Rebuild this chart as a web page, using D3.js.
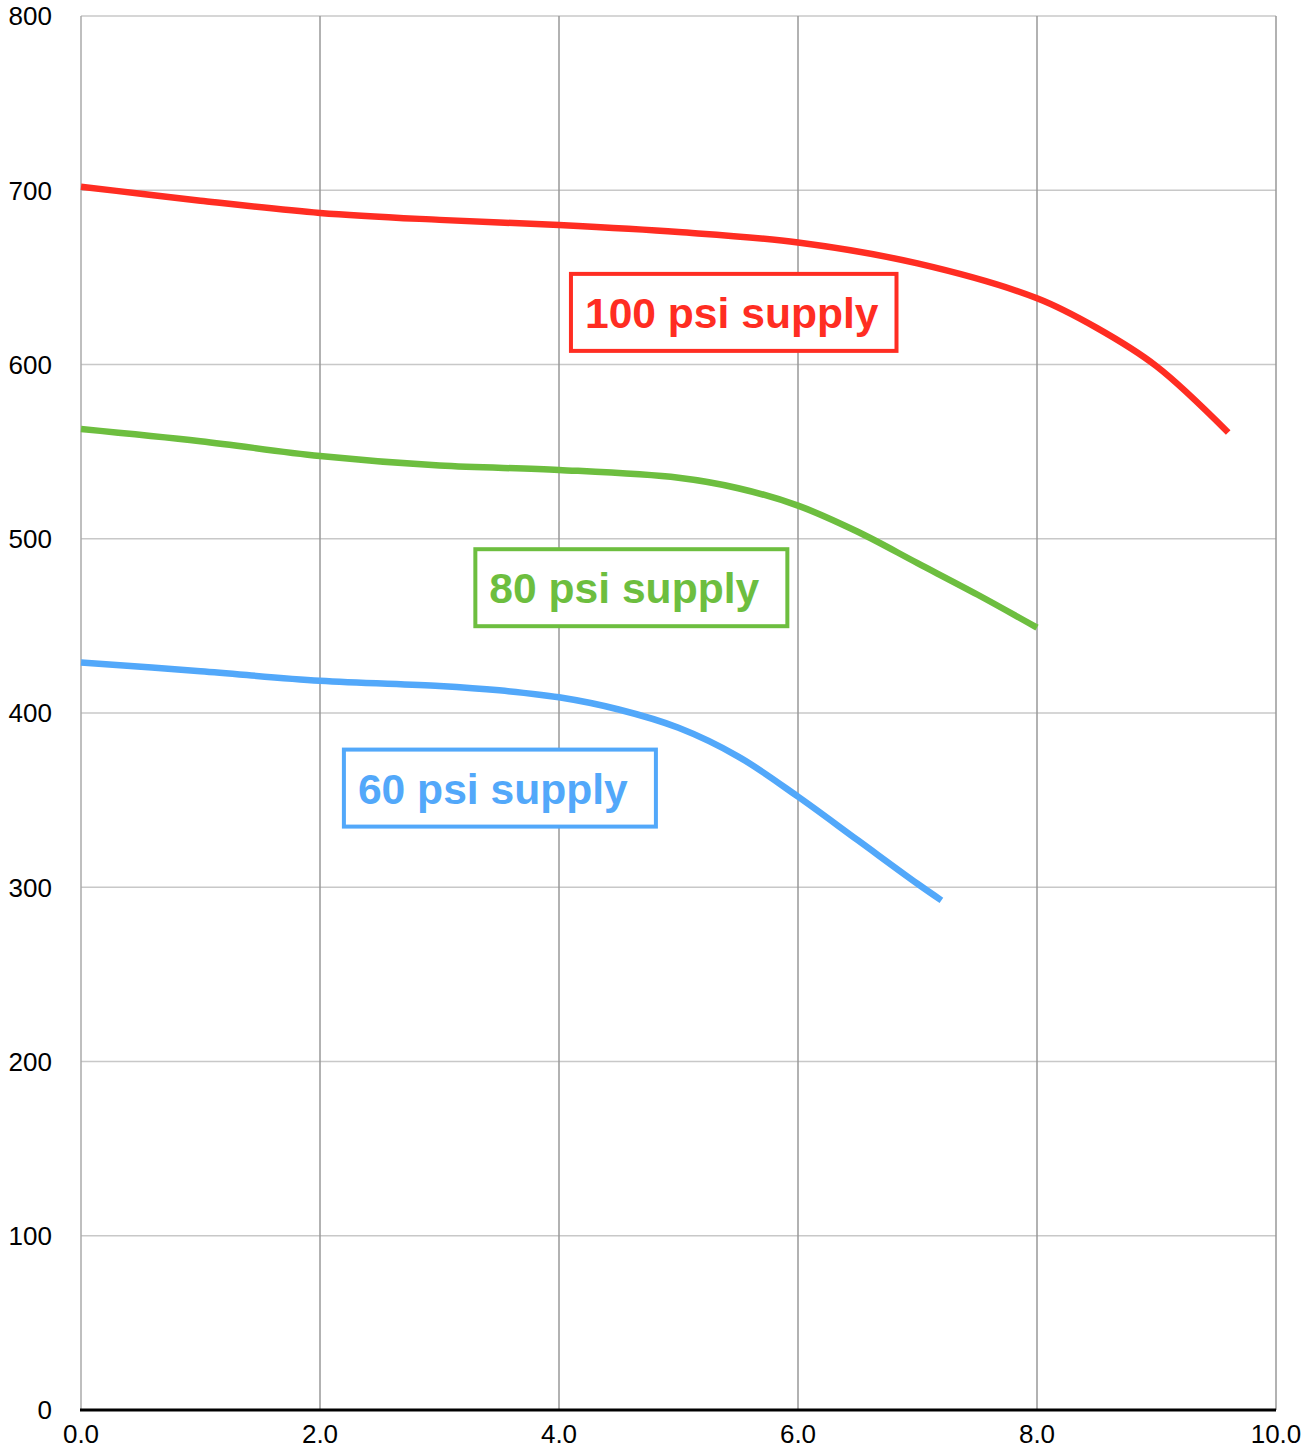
<!DOCTYPE html>
<html>
<head>
<meta charset="utf-8">
<script src="https://cdn.jsdelivr.net/npm/d3@7"></script>
<style>
  body { margin: 0; background: #fff; }
  svg { display: block; font-family: "Liberation Sans", Arial, Helvetica, sans-serif; }
</style>
</head>
<body>
<div id="chart"></div>
<script>
// flow (x) vs value (y)
const psi100 = [[0, 702], [0.5, 698], [1, 694], [2, 687], [3, 683], [4, 680], [5, 676], [6, 670], [7, 658], [8, 638], [8.5, 621], [9, 599], [9.6, 561]];
const psi80 = [[0, 563], [1, 556], [2, 547.5], [3, 542], [4, 539.5], [5, 535], [5.5, 529], [6, 519], [6.5, 504], [7, 486], [7.5, 468], [8, 449]];
const psi60 = [[0, 429], [1, 424], [2, 418.5], [3, 415.5], [3.5, 413], [4, 409], [4.5, 402], [5, 391.5], [5.5, 375], [6, 352], [6.5, 327], [7, 302], [7.2, 292.5]];

const seriesNames = ["100 psi supply", "80 psi supply", "60 psi supply"];
const seriesColors = ["#ff2d22", "#6dbe3f", "#52a8fa"];
// label anchor in data units (left, top of the box)
const labelAt = [[4.1, 652], [3.3, 494], [2.2, 379]];

const xTicks = [0, 2, 4, 6, 8, 10];
const yTicks = [0, 100, 200, 300, 400, 500, 600, 700, 800];

const W = 1314, H = 1450;
const margin = { top: 16, right: 38, bottom: 40, left: 81 };
const width = W - margin.left - margin.right,
      height = H - margin.top - margin.bottom;

const svg = d3.select("#chart").append("svg")
    .attr("width", W)
    .attr("height", H);

const g = svg.append("g")
    .attr("transform", `translate(${margin.left},${margin.top})`);

const x = d3.scaleLinear().domain([0, 10]).range([0, width]);
const y = d3.scaleLinear().domain([0, 800]).range([height, 0]);

// horizontal grid
g.append("g")
    .selectAll("line")
    .data(yTicks.filter(d => d > 0))
    .enter().append("line")
    .attr("x1", 0).attr("x2", width)
    .attr("y1", d => y(d)).attr("y2", d => y(d))
    .attr("stroke", "#c8c8c8")
    .attr("stroke-width", 1.5);

// vertical grid
g.append("g")
    .selectAll("line")
    .data(xTicks)
    .enter().append("line")
    .attr("x1", d => x(d)).attr("x2", d => x(d))
    .attr("y1", 0).attr("y2", height)
    .attr("stroke", d => d === 0 ? "#aaaaaa" : "#999999")
    .attr("stroke-width", 1.5);

// bottom axis line
g.append("line")
    .attr("x1", -1).attr("x2", width)
    .attr("y1", height).attr("y2", height)
    .attr("stroke", "#000")
    .attr("stroke-width", 3);

// y labels
g.append("g")
    .selectAll("text")
    .data(yTicks)
    .enter().append("text")
    .attr("x", -29)
    .attr("y", d => y(d))
    .attr("dy", "0.36em")
    .attr("text-anchor", "end")
    .style("font-size", "26px")
    .text(d => d);

// x labels
g.append("g")
    .selectAll("text")
    .data(xTicks)
    .enter().append("text")
    .attr("x", d => x(d))
    .attr("y", height + 33)
    .attr("text-anchor", "middle")
    .style("font-size", "26px")
    .text(d => d.toFixed(1));

const line = d3.line()
    .x(d => x(d[0]))
    .y(d => y(d[1]))
    .curve(d3.curveCatmullRom.alpha(0.5));

[psi100, psi80, psi60].forEach((data, i) => {
    g.append("path")
        .datum(data)
        .attr("fill", "none")
        .attr("stroke", seriesColors[i])
        .attr("stroke-width", 6.5)
        .attr("d", line);
});

// boxed labels
seriesNames.forEach((name, i) => {
    const lx = x(labelAt[i][0]), ly = y(labelAt[i][1]);
    const lab = g.append("g").attr("transform", `translate(${lx},${ly})`);
    const t = lab.append("text")
        .attr("x", 14)
        .attr("y", 54)
        .attr("fill", seriesColors[i])
        .style("font-size", "42.6px")
        .style("font-weight", "bold")
        .text(name);
    const w = t.node().getComputedTextLength();
    lab.insert("rect", "text")
        .attr("x", 0).attr("y", 0)
        .attr("width", Math.max(w + 32, 312))
        .attr("height", 77)
        .attr("fill", "#fff")
        .attr("stroke", seriesColors[i])
        .attr("stroke-width", 4);
});
</script>
</body>
</html>
